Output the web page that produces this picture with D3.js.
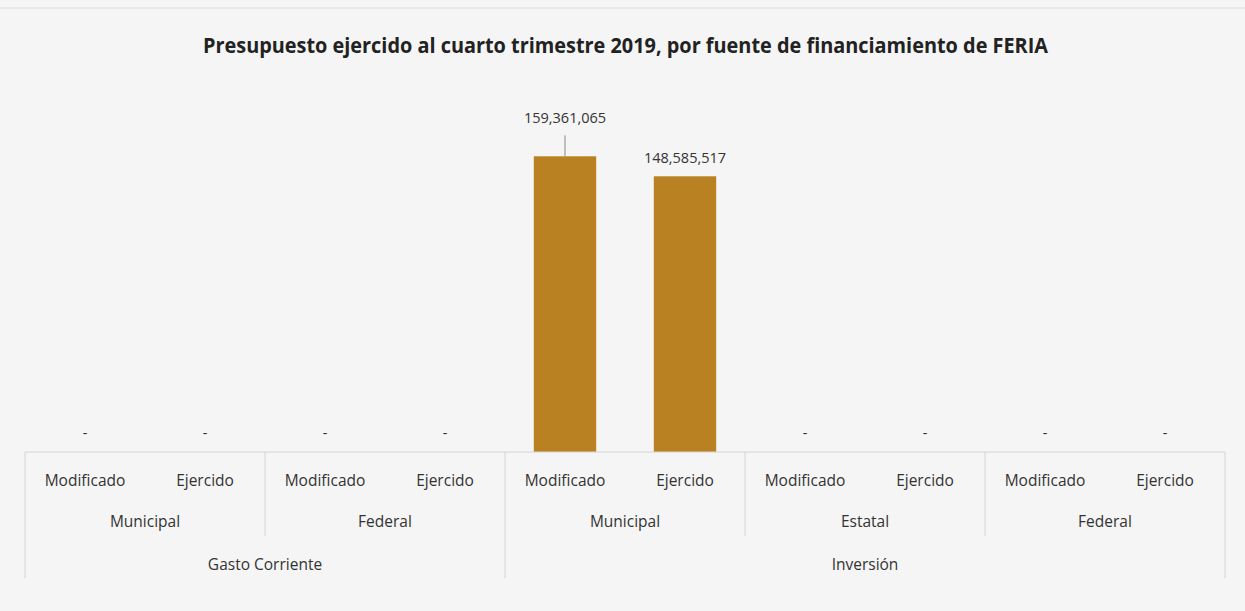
<!DOCTYPE html>
<html>
<head>
<meta charset="utf-8">
<script src="https://cdn.jsdelivr.net/npm/d3@7"></script>
<style>
    body { margin: 0; background: #f5f5f5; }
    svg { display: block; font-family: "Open Sans", sans-serif; }
</style>
</head>
<body>
<div id="chart"></div>
<script>
// Data
var rubros = ["Gasto Corriente", "Inversión"];
var fuentes = [
    {rubro: "Gasto Corriente", fuente: "Municipal"},
    {rubro: "Gasto Corriente", fuente: "Federal"},
    {rubro: "Inversión", fuente: "Municipal"},
    {rubro: "Inversión", fuente: "Estatal"},
    {rubro: "Inversión", fuente: "Federal"}
];
var tipos = ["Modificado", "Ejercido"];
// one value per fuente x tipo, in order
var valores = [0, 0, 0, 0, 159361065, 148585517, 0, 0, 0, 0];

var width = 1245, height = 611;
var left = 25, right = 1225, baseY = 452;

var svg = d3.select("#chart").append("svg")
    .attr("width", width)
    .attr("height", height);

svg.append("rect").attr("width", width).attr("height", height).attr("fill", "#f5f5f5");
svg.append("line")
    .attr("x1", 0).attr("x2", width).attr("y1", 8).attr("y2", 8)
    .attr("stroke", "#dcdcdc").attr("stroke-width", 1);

// title
svg.append("text")
    .attr("x", 203).attr("y", 53)
    .attr("textLength", 845)
    .attr("lengthAdjust", "spacingAndGlyphs")
    .style("font-size", "22px")
    .style("font-weight", "bold")
    .style("fill", "#222")
    .text("Presupuesto ejercido al cuarto trimestre 2019, por fuente de financiamiento de FERIA");

// build flat category list
var cats = [];
fuentes.forEach(function(f, i) {
    tipos.forEach(function(t, j) {
        cats.push({rubro: f.rubro, fuente: f.fuente, grupo: i, tipo: t, value: valores[i * 2 + j], key: i + "-" + t});
    });
});

var x = d3.scaleBand()
    .domain(cats.map(function(d) { return d.key; }))
    .range([left, right])
    .paddingInner(0.48)
    .paddingOuter(0.24);

var y = d3.scaleLinear()
    .domain([0, 180000000])
    .range([baseY, 118]);

var fmt = d3.format(",");
var step = x.step();

// bars
svg.selectAll(".bar")
    .data(cats.filter(function(d) { return d.value > 0; }))
    .enter().append("rect")
    .attr("class", "bar")
    .attr("x", function(d) { return x(d.key); })
    .attr("y", function(d) { return y(d.value); })
    .attr("width", x.bandwidth())
    .attr("height", function(d) { return baseY - y(d.value); })
    .attr("fill", "#b98121");

// value labels
svg.selectAll(".lbl")
    .data(cats)
    .enter().append("text")
    .attr("class", "lbl")
    .attr("x", function(d) { return x(d.key) + x.bandwidth() / 2; })
    .attr("y", function(d, i) {
        if (d.value == 0) return y(0) - 14;
        // first label is lifted with a leader line
        return i == 4 ? y(d.value) - 33 : y(d.value) - 13;
    })
    .attr("text-anchor", "middle")
    .style("font-size", "14.5px")
    .style("fill", "#333")
    .text(function(d) { return d.value == 0 ? "-" : fmt(d.value); });

// leader line for the first big bar
var big = cats[4];
svg.append("line")
    .attr("x1", x(big.key) + x.bandwidth() / 2)
    .attr("x2", x(big.key) + x.bandwidth() / 2)
    .attr("y1", y(big.value) - 21)
    .attr("y2", y(big.value))
    .attr("stroke", "#888").attr("stroke-width", 1);

// axis table
var lineCol = "#d4d4d4";
var g = svg.append("g");
g.append("line")
    .attr("x1", left).attr("x2", right).attr("y1", baseY).attr("y2", baseY)
    .attr("stroke", lineCol);

// tipo labels
g.selectAll(".tipo")
    .data(cats)
    .enter().append("text")
    .attr("x", function(d) { return x(d.key) + x.bandwidth() / 2; })
    .attr("y", 486)
    .attr("text-anchor", "middle")
    .style("font-size", "15.5px")
    .style("fill", "#333")
    .text(function(d) { return d.tipo; });

// fuente labels and separators
fuentes.forEach(function(f, i) {
    var x0 = left + step * 2 * i;
    g.append("text")
        .attr("x", x0 + step)
        .attr("y", 527)
        .attr("text-anchor", "middle")
        .style("font-size", "15.5px")
        .style("fill", "#333")
        .text(f.fuente);
    if (i > 0) {
        var rubroEdge = f.rubro != fuentes[i - 1].rubro;
        g.append("line")
            .attr("x1", x0).attr("x2", x0)
            .attr("y1", baseY).attr("y2", rubroEdge ? 578 : 536)
            .attr("stroke", lineCol);
    }
});

// rubro labels
rubros.forEach(function(r) {
    var idx = fuentes.map(function(f, i) { return f.rubro == r ? i : -1; }).filter(function(i) { return i >= 0; });
    var x0 = left + step * 2 * idx[0];
    var x1 = left + step * 2 * (idx[idx.length - 1] + 1);
    g.append("text")
        .attr("x", (x0 + x1) / 2)
        .attr("y", 570)
        .attr("text-anchor", "middle")
        .style("font-size", "15.5px")
        .style("fill", "#333")
        .text(r);
});

[left, right].forEach(function(xx) {
    g.append("line")
        .attr("x1", xx).attr("x2", xx)
        .attr("y1", baseY).attr("y2", 578)
        .attr("stroke", lineCol);
});
</script>
</body>
</html>
